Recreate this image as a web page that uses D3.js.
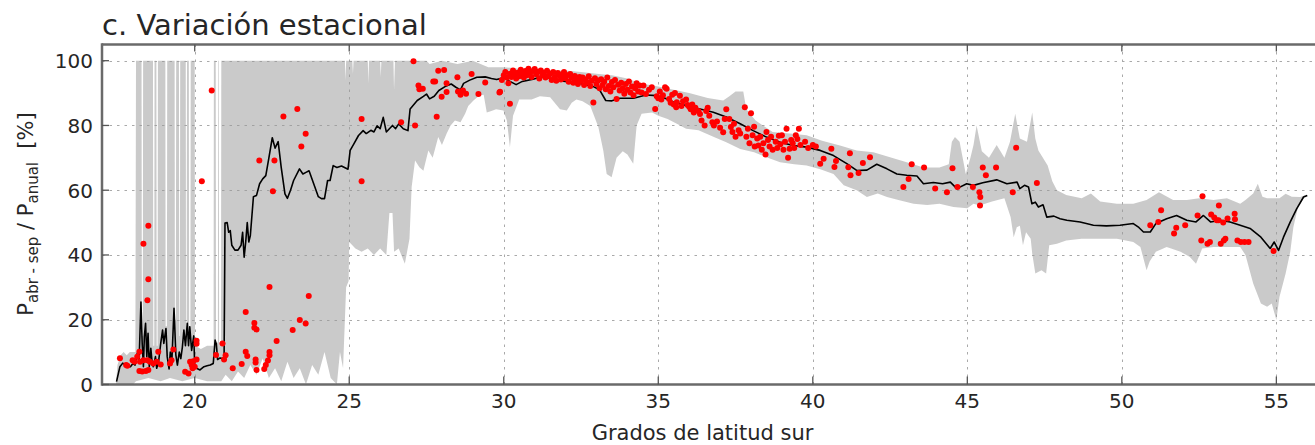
<!DOCTYPE html>
<html><head><meta charset="utf-8">
<script src="https://cdn.jsdelivr.net/npm/d3@7"></script>
<style>body{margin:0;background:#fff}svg{display:block}text{font-family:"DejaVu Sans",sans-serif;fill:#262626}</style>
</head><body>
<svg id="c" width="1315" height="445"></svg>
<script>
const xTicks=[20,25,30,35,40,45,50,55];
const yTicks=[0,20,40,60,80,100];
const titleText="c. Variación estacional";
const xLabel="Grados de latitud sur";

// upper edge of grey range
const bandHiLat=[17.45,17.5,17.6,17.7,17.8,17.9,18.08,18.1,18.28,18.29,18.32,18.33,18.65,18.66,18.69,18.7,18.76,18.77,18.8,18.81,19.05,19.06,19.1,19.11,19.35,19.36,19.39,19.4,19.49,19.5,19.52,19.53,19.71,19.72,19.74,19.75,19.81,19.82,19.86,19.87,20.0,20.01,20.2,20.4,20.61,20.62,20.68,20.69,20.75,20.76,20.78,20.79,20.85,20.86,24.86,24.88,24.9,25.1,25.12,25.14,25.6,25.62,25.64,26.0,26.02,26.04,26.43,26.45,26.48,27.5,27.6,28.0,28.5,29.0,29.5,30.0,30.5,31.0,31.5,32.0,32.5,33.0,33.5,34.0,34.4,35.0,35.5,36.0,36.6,37.1,37.3,37.5,37.75,37.85,38.15,38.7,39.26,39.8,40.3,40.88,41.42,41.96,42.5,43.04,43.58,44.1,44.4,44.5,44.6,44.75,44.95,45.1,45.2,45.3,45.47,45.7,45.95,46.2,46.38,46.55,46.7,46.93,47.1,47.2,47.3,47.6,47.75,47.9,48.2,48.7,49.0,49.3,49.84,50.37,50.8,51.2,51.66,52.1,52.5,52.97,53.4,53.83,54.0,54.25,54.4,54.55,54.7,55.1,55.3,55.5,55.77,55.95];
const bandHiVal=[0,6,9,10,9,10,10,100,100,15,15,100,100,12,12,100,100,12,12,100,100,18,18,100,100,20,20,100,100,15,15,100,100,18,18,100,100,18,18,100,100,12,11,12,12,100,100,13,13,100,100,13,13,100,100,94,100,100,96,100,100,93,100,100,95,100,100,91,100,100,99,100,99,100,98,98,97.5,97.5,97,97,96.5,96,95.5,94.5,93,92,91,90,88.5,87.7,89,90.5,90.5,85,81.5,78,77.5,77,75.3,73.8,72.3,71.7,70.2,68.6,67,67,68,75,76.4,75,65,70,74,80,72,70,74,70,75,83.6,76,75,84,76,72.3,67.6,62.8,60,58.5,57.5,59,56.5,55.8,55.8,57,59.4,57,57,57.5,57,57.5,55.8,57,59,62,58,57.5,57.5,58.9,58,57.9,58.5];
// lower edge of grey range
const bandLoLat=[17.45,18.0,18.1,18.5,18.9,19.2,19.6,20.0,20.4,20.86,21.0,21.2,21.4,21.6,21.8,22.0,22.2,22.4,22.6,22.8,23.0,23.2,23.4,23.6,23.8,24.0,24.2,24.4,24.6,24.7,24.8,24.9,24.98,25.0,25.2,25.4,25.6,25.8,26.0,26.2,26.3,26.4,26.45,
26.6,26.8,26.95,27.02,27.13,27.27,27.4,27.56,27.7,27.88,28.0,28.15,28.28,28.42,28.6,28.75,28.85,29.02,29.2,29.35,29.45,29.6,29.75,29.99,30.1,30.2,30.3,30.5,30.9,31.17,31.5,31.82,32.04,32.2,32.35,32.55,32.8,33.06,33.22,33.33,33.49,33.65,33.85,34.0,34.19,34.3,34.46,34.8,
35.0,35.3,35.6,35.9,36.3,36.8,37.2,37.65,38.1,38.5,38.94,39.4,39.8,40.24,40.67,41.0,41.42,41.75,42.1,42.4,42.8,43.26,43.7,44.1,44.55,45.0,45.2,45.4,45.8,46.2,46.4,46.5,46.6,46.7,46.8,46.9,47.05,47.1,47.2,47.4,47.55,47.65,47.9,48.2,48.7,49.3,49.84,50.37,50.6,50.8,50.9,51.1,51.45,51.9,52.2,52.4,52.6,52.97,53.4,53.83,54.0,54.25,54.5,54.7,54.85,55.0,55.1,55.3,55.45,55.55,55.7,55.88,55.95];
const bandLoVal=[0,0,1,2,1,2,1,2,1,1,3,1,4,2,6,3,8,2,5,1,7,2,5,0,6,3,10,2,0,10,5,30,32,44,42,41,42,40,42,40,53,53,41,
42,37.3,45,61,69.2,67.1,66,72.3,70,76.4,74,77.4,80,81.5,81,83.6,86,87.7,89.2,89.5,84,84.5,85,84.6,81.5,73.3,83,88,88,89,88.7,85,84.6,87,88,87.5,86,79.5,72.3,65,64,70,72,71,68.2,80,83.6,84,
83,82,80.5,79,78.5,76.4,74.8,72.7,71.7,70.2,68.6,68,67.6,66.5,65,61.5,60,57.9,59,57.9,56.9,55.8,55.4,55.8,54.8,54.4,55.8,55.3,56.5,57.5,51.7,45.5,48.6,49,43,47,45,40.4,34.3,35.3,34.3,43,43.5,44.5,45,45,45,44,42.5,35.3,38,41,42.5,41,39.4,37.3,42,42.5,42.5,42.5,40,31.2,25,24,25,19.9,27,34.3,41,48.6,54.8,57.5,58.5];

// black line (median)
const lineLat=[17.47,17.58,17.67,17.8,17.92,18.0,18.07,18.14,18.2,18.26,18.3,18.34,18.37,18.41,18.45,18.49,18.53,18.58,18.62,18.66,18.73,18.77,18.83,18.9,18.96,19.0,19.07,19.11,19.17,19.21,19.26,19.33,19.39,19.44,19.5,19.55,19.6,19.65,19.7,19.76,19.8,19.84,19.9,19.97,20.0,20.06,20.17,20.3,20.4,20.5,20.6,20.66,20.7,20.74,20.82,20.9,20.95,20.98,21.05,21.1,21.15,21.2,21.3,21.4,21.5,21.55,21.6,21.65,21.7,21.75,21.8,21.9,22.0,22.1,22.2,22.3,22.4,22.51,22.6,22.7,22.8,22.92,23.0,23.1,23.2,23.39,23.5,23.6,23.7,23.85,24.0,24.1,24.2,24.3,24.38,24.48,24.6,24.75,24.96,25.03,25.15,25.3,25.45,25.55,25.7,25.8,25.9,26.0,26.1,26.2,26.3,26.4,26.5,26.6,26.75,26.9,26.97,27.2,27.4,27.5,27.6,27.75,27.9,28.1,28.3,28.45,28.6,28.7,28.9,29.13,29.4,29.6,29.77,29.99,30.2,30.4,30.6,30.95,31.3,31.6,32.0,32.47,32.9,33.1,33.3,33.5,33.76,34.2,34.6,34.96,35.2,35.5,35.92,36.35,36.78,37.2,37.65,38.07,38.5,38.94,39.37,39.8,40.24,40.67,41.1,41.42,41.75,42.07,42.4,42.72,43.04,43.37,43.58,43.9,44.2,44.45,44.66,44.98,45.2,45.5,45.95,46.28,46.61,46.7,46.85,46.98,47.09,47.2,47.3,47.45,47.57,47.8,48.0,48.22,48.65,49.08,49.5,49.94,50.37,50.55,50.7,50.92,51.1,51.45,51.77,52.1,52.4,52.64,52.87,53.18,53.5,53.83,54.15,54.5,54.8,54.93,55.07,55.23,55.45,55.66,55.88,56.0];
const lineVal=[0.9,5.5,6.6,5.7,5.5,6.5,6,9.6,7,25.5,12.7,5.5,14.7,18.9,8.6,15.8,5.5,11.2,7,5.5,8.6,5,7,12.7,16.8,12.7,17.3,8.6,4.8,10,7,23.5,9.1,6,10,8,11.5,16.8,12,18.9,12,17.8,10.5,15,5.5,5,4.5,5.5,5.8,6,6.5,13.7,12.5,7.7,8.2,8,7.5,49.9,50,47,47.5,43,41.5,41.5,43,47,39.3,44,50,44,46,58,58.4,62,63.5,64.5,70,76.2,73,75,67,58.9,57.5,60,63,66.6,65,65.5,66,62,58,57.4,57.4,63,63,67.6,67,67.5,66.5,72.3,74.3,76.9,78.4,77.5,78.5,78,79.9,79,82.5,78,79,80,79,80.5,79,78.4,85.1,87.7,89,89.7,88.2,89,90.8,92,92.8,91.8,91,93,94,94.9,95,94.5,94.2,94.7,93.6,92.6,93.6,94.3,95.3,94,93.6,93,92,91,87.7,87.6,88.4,88.4,89.4,89.2,88.5,87.2,86.1,85.1,84.1,82.6,80.5,78.4,76.4,74.8,73.8,73.3,72.3,70.7,68.2,66.1,66.2,68,66.6,65,64.6,64.4,62,62.4,62,62.5,60.5,62,61.5,62.3,63.2,62,62.5,60.5,61.5,61,55.8,56.3,54.8,55.5,51.7,52,51.2,50.7,50.2,49.2,49,49.2,49.7,48.5,47.1,47.1,49.7,51.2,52.2,50.7,50.2,52.2,50.2,50.7,50.2,49.2,48.2,45.5,42,44,41.4,45.5,50.2,54.3,57.9,58.4];

// red points (stations)
const ptLat=[17.58,17.78,17.82,17.99,18.05,18.14,18.21,18.23,18.21,18.3,18.34,18.34,18.5,18.5,18.47,18.42,18.47,18.5,18.55,18.66,18.77,18.82,18.9,19.2,19.25,19.31,19.69,19.8,19.85,19.9,19.95,20.0,19.93,20.06,20.06,20.06,20.23,20.55,20.69,20.9,20.95,21.0,21.23,21.52,21.65,21.65,21.7,21.93,21.93,22.0,21.97,21.97,22.0,22.09,22.25,22.3,22.37,22.42,22.42,22.42,22.53,22.58,22.65,22.87,23.17,23.32,23.4,23.45,23.59,23.59,23.69,25.4,25.4,26.68,27.08,27.13,27.24,27.27,27.38,27.72,27.78,27.83,27.88,27.99,28.07,28.15,28.15,28.5,28.52,28.6,28.68,28.78,28.96,29.18,29.4,29.86,29.88,29.94,
30.0,30.05,30.1,30.15,30.2,30.2,30.25,30.3,30.35,30.4,30.45,30.5,30.55,30.6,30.65,30.7,30.75,30.8,30.85,30.9,30.95,31.0,31.05,31.1,31.15,31.2,31.25,31.3,31.35,31.4,31.45,31.5,31.55,31.6,31.65,31.7,31.75,31.8,31.85,31.9,31.95,32.0,32.05,32.1,32.15,32.2,32.25,32.3,32.35,32.4,32.45,32.5,32.55,32.6,32.65,32.7,32.75,32.8,32.85,32.9,32.95,33.0,33.05,33.1,33.15,33.2,33.25,33.3,33.35,33.4,33.45,33.5,33.55,33.6,33.65,33.7,33.75,33.8,33.85,33.9,33.95,34.0,34.05,34.1,34.15,34.2,34.25,34.3,34.35,34.4,
34.46,34.52,34.6,34.7,34.79,34.9,34.95,35.0,35.05,35.1,35.15,35.22,35.27,35.35,35.4,35.45,35.5,35.54,35.58,35.6,35.7,35.75,35.8,35.9,35.95,36.0,36.05,36.1,36.15,36.2,36.3,36.35,36.4,36.5,36.55,36.6,36.65,36.75,36.8,36.9,37.0,37.1,37.15,37.2,37.3,37.35,37.4,37.45,37.5,37.6,37.65,37.8,37.85,37.9,37.95,38.0,38.05,38.1,38.12,38.2,38.24,38.3,38.35,38.4,38.47,38.5,38.55,38.6,38.65,38.7,38.8,38.85,38.9,38.95,39.0,39.05,39.1,39.15,39.2,39.25,39.3,39.35,39.4,39.45,39.5,39.55,39.6,39.75,39.85,40.0,40.1,40.24,40.35,40.6,40.7,40.75,41.15,41.2,41.22,41.48,41.62,41.85,42.93,43.1,43.2,43.6,43.96,44.34,44.52,44.68,45.18,45.39,45.42,45.41,45.5,45.6,45.93,46.47,46.58,47.25,
50.92,51.18,51.27,51.69,51.76,52.05,52.45,52.57,52.61,52.77,52.85,52.89,52.99,53.07,53.13,53.14,53.2,53.28,53.3,53.35,53.42,53.65,53.66,53.74,53.85,53.97,54.1,54.91];
const ptVal=[8.1,6.0,5.8,7.5,7.0,8.6,10.1,7.0,4.2,4.0,7.5,43.5,49.0,32.5,26.0,4.2,7.5,4.5,7.0,6.5,7.0,10.1,6.2,6.5,7.5,10.8,3.9,3.4,7.0,6.0,7.2,5.5,5.0,13.5,12.6,7.7,62.8,90.8,9.1,12.7,7.7,9.0,5.0,6.3,22.4,10.1,8.8,19.0,17.5,17.0,7.7,6.8,4.5,69.2,4.8,6.0,7.4,9.0,10.0,30.1,59.7,69.2,13.4,82.8,16.8,85.1,19.9,73.5,77.4,18.8,27.3,82,62.8,81,99.8,80,92.3,91.2,91.3,93.6,93.6,82.7,96.9,88.9,97.1,93,90.3,94.9,90.5,89.5,90.8,89.8,95.9,89.7,93.3,90.2,90.4,94,
95.5,96.5,94.8,93,86.7,96,95,97,95.8,94.5,96.3,95.2,97.2,96,94.8,96.8,95.5,97.5,96.2,95,96.8,97.4,95.8,96.6,94.5,97,95.5,96.3,94.8,96.9,95.3,96,94,96.5,95,93.8,96.2,95.4,94.2,95.8,96.5,94.6,95.5,93.5,95.9,94.8,93.2,95.3,94.3,92.8,95,93.7,94.8,92.5,94.2,93.3,95.2,92.2,93.8,87.1,94.6,92.8,93.9,91.5,94.3,92.5,93.5,91.2,94.8,92.2,90.5,93.4,91.8,94,88.2,92.6,90.8,93.2,91.5,89.8,92.8,91,93.6,90.2,92,89.3,91.5,93,90.5,92.3,
90.2,92.3,89.7,91,91.8,85.1,89,88.4,90.5,88,89.3,91.8,91.3,88.2,87,89.5,86.5,90,85.6,87.2,89.2,86,87.5,88,86.3,85.8,85,86.5,84,85.5,84.5,83.5,81.5,80,84.5,85.5,83,81,80,81.2,79.3,77.9,82,85,82,79.5,78,80.5,76.5,78.5,77.5,85.6,76.5,79,74.5,83.8,77,79.6,73.5,76,73.8,76.5,72.5,74.5,71,78,75.5,73.5,76.5,72.5,75,73,76.8,74.2,77,72.5,75,79,70,72.8,75.5,74.5,73,77,75.8,79,74,75,73,74,73.5,68.2,69.7,72.8,67.2,69,67.1,71.4,64.6,65.3,68.4,70.2,61,63.5,68,67,60.5,59.4,66.8,61,61,59.4,57.9,55.3,67,64.6,67,59.4,73.1,62.2,
49.2,50.2,53.8,46.6,48.4,49.2,52.2,44.5,58.1,43.5,44,52.5,51.6,50.7,50.7,55.3,43.5,50,44.5,45,51.3,52.7,51,44.5,44,44,44,41.2];

const W=1315,H=445,L=102,R=1315,T=44.5,B=384.5;
const x=d3.scaleLinear().domain([17,56.25]).range([L,R]);
const y=d3.scaleLinear().domain([0,105]).range([B,T]);
const svg=d3.select("#c");
svg.append("defs").append("clipPath").attr("id","clip").append("rect")
  .attr("x",L).attr("y",T).attr("width",R-L).attr("height",B-T);
const plot=svg.append("g").attr("clip-path","url(#clip)");

// band polygon: upper edge forward, lower edge backward
const up=bandHiLat.map((d,i)=>[d,bandHiVal[i]]);
const lo=bandLoLat.map((d,i)=>[d,bandLoVal[i]]).reverse();
const poly=d3.line().x(d=>x(d[0])).y(d=>y(d[1]));
plot.append("path").attr("d",poly(up.concat(lo))+"Z").attr("fill","#cbcbcb").attr("stroke","none");

// grid
const grid=plot.append("g").attr("stroke","#9a9a9a").attr("stroke-width",1).attr("stroke-dasharray","2.5,5").attr("opacity",0.85);
yTicks.filter(v=>v>0).forEach(v=>grid.append("line").attr("x1",L).attr("x2",R).attr("y1",Math.round(y(v))+0.5).attr("y2",Math.round(y(v))+0.5));
xTicks.forEach(v=>grid.append("line").attr("x1",Math.round(x(v))+0.5).attr("x2",Math.round(x(v))+0.5).attr("y1",T).attr("y2",B));

// median line
plot.append("path").datum(lineLat.map((d,i)=>[d,lineVal[i]]))
  .attr("d",d3.line().x(d=>x(d[0])).y(d=>y(d[1])))
  .attr("fill","none").attr("stroke","#000").attr("stroke-width",1.6).attr("stroke-linejoin","round");

// points
plot.append("g").selectAll("circle").data(ptLat.map((d,i)=>[d,ptVal[i]])).join("circle")
  .attr("cx",d=>x(d[0])).attr("cy",d=>y(d[1])).attr("r",3).attr("fill","#ff0000");

// spines
const sp=svg.append("g").attr("stroke","#6a6a6a").attr("stroke-width",2.5);
sp.append("line").attr("x1",L).attr("x2",R).attr("y1",T).attr("y2",T);
sp.append("line").attr("x1",L).attr("x2",R).attr("y1",B).attr("y2",B);
sp.append("line").attr("x1",L).attr("x2",L).attr("y1",T-1.25).attr("y2",B+1.25);

// ticks
const tk=svg.append("g").attr("stroke","#555").attr("stroke-width",1.3);
xTicks.forEach(v=>{
  const px=x(v);
  tk.append("line").attr("x1",px).attr("x2",px).attr("y1",B).attr("y2",B-8);
  tk.append("line").attr("x1",px).attr("x2",px).attr("y1",T).attr("y2",T+7);
});
yTicks.forEach(v=>{
  tk.append("line").attr("x1",L).attr("x2",L+7).attr("y1",y(v)).attr("y2",y(v));
});

// tick labels
svg.append("g").selectAll("text").data(xTicks).join("text")
  .attr("x",d=>x(d)).attr("y",408).attr("text-anchor","middle").attr("font-size",20).text(d=>d);
svg.append("g").selectAll("text").data(yTicks).join("text")
  .attr("x",93).attr("y",d=>y(d)+7.3).attr("text-anchor","end").attr("font-size",20).text(d=>d);

// title and labels
svg.append("text").attr("x",102).attr("y",35).attr("font-size",29).text(titleText);
svg.append("text").attr("x",(L+R)/2-6).attr("y",440).attr("text-anchor","middle").attr("font-size",21).text(xLabel);
const yl=svg.append("text").attr("transform","translate(33,214) rotate(-90)").attr("text-anchor","middle").attr("font-size",21);
yl.append("tspan").text("P");
yl.append("tspan").attr("font-size",15).attr("dy",5).text("abr - sep");
yl.append("tspan").attr("dy",-5).text(" / P");
yl.append("tspan").attr("font-size",15).attr("dy",5).text("anual");
yl.append("tspan").attr("dy",-5).text("\u00a0\u00a0[%]");
</script>
</body></html>
